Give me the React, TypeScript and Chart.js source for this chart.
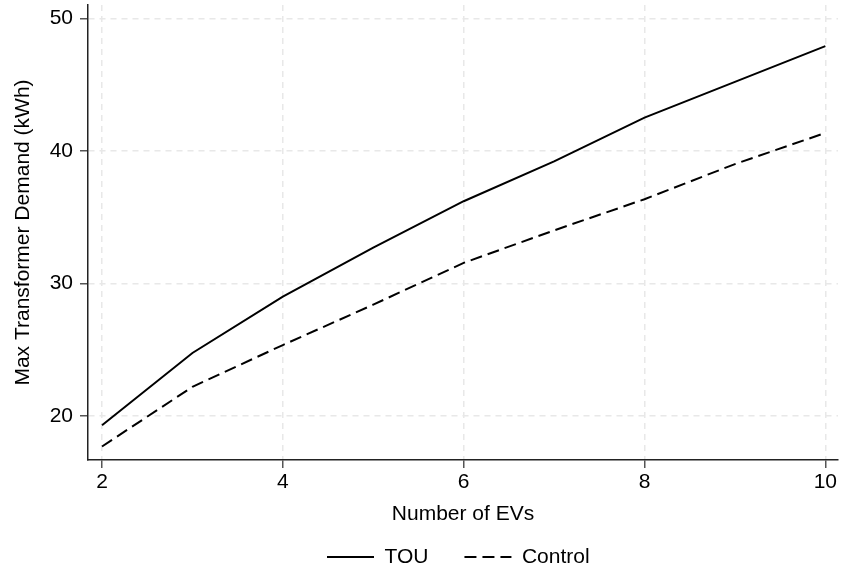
import React, { useEffect, useRef } from "react";
import { Chart, registerables } from "chart.js";

Chart.register(...registerables);

const evCounts = [2, 3, 4, 5, 6, 7, 8, 9, 10];
const touDemand = [19.3, 24.75, 29.0, 32.7, 36.2, 39.2, 42.5, 45.2, 47.9];
const controlDemand = [17.7, 22.2, 25.35, 28.4, 31.55, 34.0, 36.35, 39.0, 41.35];
const xTicks = [2, 4, 6, 8, 10];
const yTicks = [20, 30, 40, 50];

const FONT = "'Liberation Sans', Arial, Helvetica, sans-serif";
const FS = 21;
const DASH = [12, 6];

const legendShift = {
  id: "legendShift",
  afterLayout(chart: any) {
    if (chart.legend) {
      chart.legend.left = 291;
    }
  },
};

export default function App() {
  const ref = useRef<HTMLCanvasElement | null>(null);

  useEffect(() => {
    document.body.style.margin = "0";
    const canvas = ref.current;
    if (!canvas) return;
    const defaultLabels = (Chart as any).defaults.plugins.legend.labels.generateLabels;
    const chart = new Chart(canvas, {
      type: "line",
      data: {
        datasets: [
          {
            label: "TOU",
            data: evCounts.map((x, i) => ({ x, y: touDemand[i] })),
            borderColor: "#000",
            backgroundColor: "#000",
            borderWidth: 2,
            pointRadius: 0,
            tension: 0,
          },
          {
            label: "Control",
            data: evCounts.map((x, i) => ({ x, y: controlDemand[i] })),
            borderColor: "#000",
            backgroundColor: "#000",
            borderWidth: 2,
            borderDash: DASH,
            pointRadius: 0,
            tension: 0,
          },
        ],
      },
      options: {
        animation: false,
        responsive: false,
        maintainAspectRatio: false,
        layout: { padding: { top: 5, right: 4, left: 0, bottom: -2.5 } },
        plugins: {
          tooltip: { enabled: false },
          legend: {
            position: "bottom",
            align: "start",
            labels: {
              usePointStyle: true,
              pointStyle: "line",
              pointStyleWidth: 47,
              boxHeight: FS,
              color: "#000",
              padding: 36,
              font: { family: FONT, size: FS },
              generateLabels: (c: any) => {
                const items = defaultLabels(c);
                items.forEach((it: any) => {
                  const ds = c.data.datasets[it.datasetIndex];
                  it.lineDash = ds.borderDash || [];
                  it.lineWidth = 2;
                  it.strokeStyle = "#000";
                  it.pointStyle = "line";
                });
                return items;
              },
            },
          },
        },
        scales: {
          x: {
            type: "linear",
            min: 1.845,
            max: 10.14,
            afterBuildTicks: (s: any) => {
              s.ticks = xTicks.map((v) => ({ value: v }));
            },
            afterFit: (s: any) => {
              s.height = 50.5;
              s.paddingLeft = 0;
              s.paddingRight = 0;
            },
            ticks: {
              color: "#000",
              padding: 2,
              font: { family: FONT, size: FS },
              callback: (v: any) => String(v),
            },
            grid: {
              color: "#e8e8e8",
              lineWidth: 1.5,
              tickColor: "#555",
              tickLength: 8,
              tickWidth: 1.5,
            },
            border: { color: "#222", width: 1.5, dash: [6, 5] },
            title: {
              display: true,
              text: "Number of EVs",
              color: "#000",
              font: { family: FONT, size: FS },
              padding: { top: 0, bottom: -16.6 },
            },
          },
          y: {
            type: "linear",
            min: 16.68,
            max: 51.0,
            afterBuildTicks: (s: any) => {
              s.ticks = yTicks.map((v) => ({ value: v }));
            },
            afterFit: (s: any) => {
              s.width = 88;
              s.paddingTop = 0;
              s.paddingBottom = 0;
            },
            ticks: {
              color: "#000",
              padding: 7,
              font: { family: FONT, size: FS },
              callback: (v: any) => String(v),
            },
            grid: {
              color: "#e8e8e8",
              lineWidth: 1.5,
              tickColor: "#555",
              tickLength: 8,
              tickWidth: 1.5,
            },
            border: { color: "#222", width: 1.5, dash: [6, 5] },
            title: {
              display: true,
              text: "Max Transformer Demand (kWh)",
              color: "#000",
              font: { family: FONT, size: FS },
              padding: { top: 11, bottom: 0 },
            },
          },
        },
      },
      plugins: [legendShift],
    } as any);
    return () => chart.destroy();
  }, []);

  return (
    <div style={{ width: 842, height: 575 }}>
      <canvas ref={ref} width={842} height={575} style={{ display: "block" }} />
    </div>
  );
}
